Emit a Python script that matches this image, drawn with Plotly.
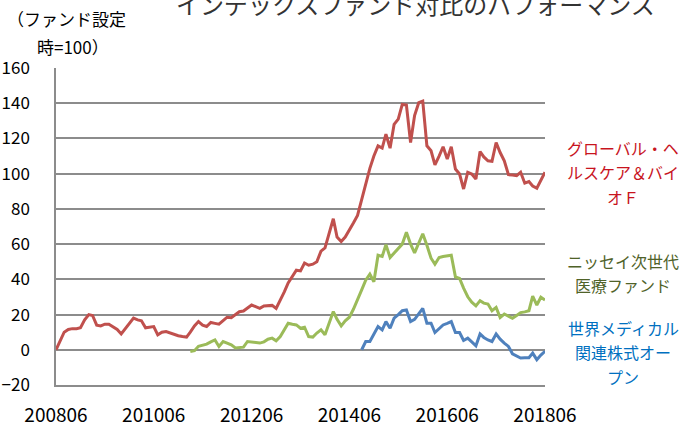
import pandas as pd
import plotly.graph_objects as go

start_month = "2008-06-01"
n_months = 121

tick_labels = ["200806", "201006", "201206", "201406", "201606", "201806"]
tick_dates = ["2008-06-01", "2010-06-01", "2012-06-01", "2014-06-01", "2016-06-01", "2018-06-01"]

series_names = ["グローバル・ヘルスケア＆バイオＦ", "ニッセイ次世代医療ファンド", "世界メディカル関連株式オープン"]

red_values = [
    0, 5, 10, 11.5, 12, 12, 12.5, 17, 20, 19.5,
    14, 13.5, 14.5, 14.5, 13.2, 11.5, 9, 12, 15.5, 18,
    17, 16.5, 12.5, 13, 13.2, 8.5, 10, 10.4, 9.5, 8.7,
    8, 7.5, 7.2, 10, 13.5, 16, 14, 13.2, 15.5, 15,
    14.5, 16.5, 18.5, 18.2, 19.8, 21.6, 22, 23.5, 25.4, 24.5,
    23.5, 24.9, 25, 25.2, 23.5, 28, 33, 38, 42, 45.2,
    44.8, 49.3, 48, 48.6, 50, 56, 57.8, 66, 74.4, 64,
    61.5, 64, 67.8, 72, 76.3, 85, 95, 103, 110, 115.8,
    114.5, 122.4, 114.5, 128, 131, 139.3, 139, 117.7, 133, 140.3,
    141.2, 115.8, 113, 105, 110, 115.3, 108.3, 115.3, 102.6, 99.8,
    91.3, 100.8, 99.8, 97, 112.6, 109.5, 107.3, 107, 117.7, 112,
    107.3, 99.4, 99.2, 98.9, 100.8, 94.6, 95.5, 93, 91.8, 96,
    100.8,
]

green_values = [None] * 33 + [
    -1, -0.5, 2, 2.8, 3.2, 4.5, 5.6, 1.9, 4.7, 3.8,
    2.8, 1, 1.2, 1.5, 4.7, 4.5, 4, 3.8, 4.5, 6,
    6.6, 5.1, 7.5, 11.5, 15.1, 14.5, 14.1, 12.2, 12.8, 7.5,
    7.2, 9.5, 11.3, 8.5, 15, 21.7, 17.3, 13.6, 16.4, 18.5,
    23, 28.2, 34, 39.5, 42.9, 38.6, 53.7, 53, 59.7, 52.4,
    55, 57.4, 60, 66.8, 60, 55, 61, 65.9, 59.3, 52,
    48.6, 52.4, 53, 53.3, 53.7, 41.4, 40.5, 35, 30.1, 27,
    24.9, 27.9, 26.5, 26, 22.2, 24.1, 18.3, 20.3, 19, 17.9,
    19.5, 21.1, 21.5, 22.2, 30.5, 25.4, 29.8, 28.2,
]

blue_values = [None] * 75 + [
    0, 4.7, 4.7, 9, 13.2, 11.3, 16, 12.2, 17.9, 20,
    22.2, 22.6, 16, 17.3, 20.5, 23.5, 15.1, 15.1, 9.8, 12,
    14.1, 15, 16, 9.8, 9.8, 5.3, 6.6, 4.5, 2.3, 9,
    7, 5.6, 4.7, 9, 6, 3.8, 1.9, -2.3, -3.5, -4.7,
    -4.5, -4.5, -1.9, -5.6, -3, -0.9,
]

dates = pd.date_range(start_month, periods=n_months, freq="MS")

line_colors = ["#C0504D", "#9BBB59", "#4F81BD"]
label_colors = ["#C8141E", "#4F6228", "#0070C0"]

fig = go.Figure()
for name, vals, col in zip(series_names, [red_values, green_values, blue_values], line_colors):
    fig.add_trace(go.Scatter(x=dates, y=vals, mode="lines", name=name,
                             line=dict(color=col, width=3), connectgaps=False))

font_jp = "Noto Sans CJK JP"
grid_col = "#8C8C8C"

fig.update_layout(
    width=686, height=427,
    margin=dict(l=56, r=141, t=68, b=42),
    paper_bgcolor="white", plot_bgcolor="white",
    showlegend=False,
    font=dict(family=font_jp, size=15, color="#000000"),
)
fig.update_xaxes(
    range=[dates[0], dates[-1]], automargin=False,
    tickvals=tick_dates, ticktext=tick_labels,
    showgrid=False, zeroline=False,
    showline=True, linecolor=grid_col, linewidth=1.5,
    ticks="", ticklabelstandoff=12,
    tickfont=dict(family=font_jp, size=19, color="#000"),
)
fig.update_yaxes(
    range=[-20, 160], dtick=20, tick0=-20, automargin=False,
    showgrid=True, gridcolor=grid_col, gridwidth=1.5,
    zeroline=False, showline=True, linecolor=grid_col, linewidth=1.5,
    ticks="", ticklabelstandoff=21,
    tickfont=dict(family=font_jp, size=17, color="#000"),
)

PW, PH, PL, PB = 489, 317, 56, 385


def px(xc):
    return (xc - PL) / PW


def py(yc):
    return (PB - yc) / PH


# title (partly cut off at top in the reference)
fig.add_annotation(text="インデックスファンド対比のパフォーマンス", xref="paper", yref="paper",
                   x=px(415), y=py(4), xanchor="center", yanchor="middle",
                   showarrow=False, font=dict(family=font_jp, size=24, color="#333333"))

# y-axis unit text
for txt, xc, yc in [("（ファンド設定", 66, 18), ("時=100）", 73, 47)]:
    fig.add_annotation(text=txt, xref="paper", yref="paper",
                       x=px(xc), y=py(yc), xanchor="center", yanchor="middle",
                       showarrow=False, font=dict(family=font_jp, size=17, color="#000"))

label_lines = [
    ["グローバル・ヘ", "ルスケア＆バイ", "オＦ"],
    ["ニッセイ次世代", "医療ファンド"],
    ["世界メディカル", "関連株式オー", "プン"],
]
label_ys = [[148, 172, 197], [261, 285], [328, 352, 377]]
for lines, ys, col in zip(label_lines, label_ys, label_colors):
    for txt, yc in zip(lines, ys):
        fig.add_annotation(text=txt, xref="paper", yref="paper",
                           x=px(623), y=py(yc), xanchor="center", yanchor="middle",
                           showarrow=False, font=dict(family=font_jp, size=16, color=col))

fig.write_html("out.html")
